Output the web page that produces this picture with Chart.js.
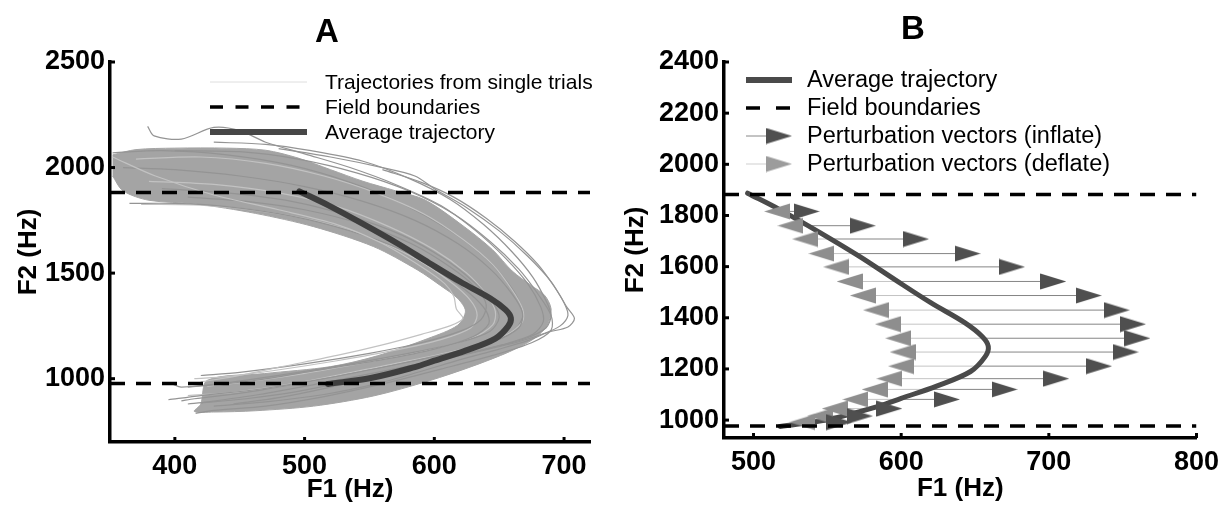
<!DOCTYPE html>
<html>
<head>
<meta charset="utf-8">
<script src="https://cdn.jsdelivr.net/npm/chart.js@4.4.0/dist/chart.umd.min.js"></script>
<style>
    html, body { margin: 0; padding: 0; background: #fff; }
    #wrap { position: relative; width: 1227px; height: 506px; overflow: hidden; }
    #wrap canvas { position: absolute; top: 0; }
</style>
</head>
<body>
<div id="wrap">
    <canvas id="chartA" width="615" height="506" style="left:0"></canvas>
    <canvas id="chartB" width="612" height="506" style="left:615px"></canvas>
</div>
<script>
// ---- data (F1, F2 in Hz) ----

// average trajectory, same in both panels
const avgF1 = [496, 518, 545, 572, 596, 620, 643, 655, 659, 657, 647, 624, 600, 585, 551, 518];
const avgF2 = [1887, 1822, 1733, 1639, 1548, 1459, 1381, 1326, 1288, 1249, 1190, 1133, 1085, 1055, 1003, 975];

// field boundaries (F2)
const fieldBounds = [1882, 977];

// panel A axes
const xRangeA = [350, 720];
const yRangeA = [700, 2500];
const xTicksA = [400, 500, 600, 700];
const yTicksA = [1000, 1500, 2000, 2500];

// panel B axes
const xRangeB = [480, 800];
const yRangeB = [930, 2400];
const xTicksB = [500, 600, 700, 800];
const yTicksB = [1000, 1200, 1400, 1600, 1800, 2000, 2200, 2400];

// panel A: outline of the dense bundle of single trials
const trialBand = [
    [352, 2060], [370, 2085], [400, 2092], [440, 2092], [470, 2082], [495, 2045], [520, 1990],
    [545, 1935], [570, 1890], [593, 1846], [623, 1720], [645, 1610], [660, 1510], [675, 1440],
    [685, 1395], [690, 1330], [687, 1253], [677, 1190], [658, 1128], [629, 1058], [596, 990],
    [553, 918], [507, 870], [462, 848], [430, 842], [415, 845],
    [420, 880], [425, 992], [469, 1024], [520, 1057], [556, 1108], [595, 1190], [618, 1253],
    [624, 1320], [618, 1380], [605, 1440], [587, 1515], [553, 1626], [507, 1720], [462, 1783],
    [416, 1828], [380, 1845], [360, 1890], [352, 1960]
];

// panel A: single trials that can be told apart
const trials = [
    [[379, 2195], [384, 2150], [405, 2135], [430, 2190], [450, 2175], [470, 2120], [500, 2065], [535, 2000], [570, 1920], [605, 1820], [632, 1700], [655, 1570], [672, 1450], [682, 1340], [684, 1270], [676, 1210], [652, 1160], [615, 1105], [575, 1045], [535, 990], [495, 940], [455, 905], [420, 885]],
    [[480, 2090], [520, 2050], [560, 2000], [585, 1960], [600, 1900], [625, 1810], [650, 1700], [672, 1580], [690, 1460], [702, 1340], [708, 1285], [703, 1245], [688, 1220], [672, 1180], [650, 1140], [620, 1090], [590, 1035], [555, 975], [515, 925], [470, 890], [430, 870]],
    [[352, 2050], [385, 1960], [430, 1870], [480, 1800], [525, 1730], [560, 1640], [590, 1530], [608, 1450], [615, 1390], [617, 1330], [622, 1285], [612, 1250], [590, 1210], [560, 1160], [525, 1110], [485, 1060], [445, 1010], [420, 985]],
    [[365, 1830], [400, 1830], [440, 1815], [490, 1770], [535, 1700], [575, 1610], [605, 1500], [628, 1400], [640, 1320], [642, 1260], [630, 1200], [600, 1140], [560, 1090], [510, 1040], [460, 990], [405, 960], [398, 975]],
    [[360, 2000], [400, 1990], [450, 1960], [500, 1910], [545, 1840], [585, 1750], [618, 1640], [643, 1520], [660, 1400], [668, 1310], [665, 1240], [645, 1175], [610, 1120], [565, 1060], [515, 1000], [465, 950], [420, 920], [395, 900]],
    [[370, 2040], [420, 2050], [470, 2020], [515, 1960], [555, 1880], [592, 1780], [622, 1660], [645, 1540], [660, 1420], [668, 1330], [668, 1270], [655, 1205], [625, 1145], [585, 1090], [540, 1035], [490, 975], [445, 935], [410, 920]],
    [[390, 1900], [440, 1880], [490, 1840], [535, 1770], [575, 1680], [607, 1570], [630, 1460], [645, 1360], [650, 1290], [643, 1225], [618, 1170], [580, 1120], [535, 1070], [485, 1020], [440, 980], [410, 960]],
    [[400, 2080], [450, 2075], [495, 2040], [540, 1975], [580, 1890], [615, 1780], [643, 1650], [665, 1520], [680, 1400], [690, 1300], [690, 1230], [675, 1170], [645, 1110], [605, 1045], [560, 975], [515, 915], [470, 870], [430, 850], [416, 836]],
    [[380, 1935], [430, 1920], [480, 1880], [525, 1815], [565, 1720], [600, 1610], [625, 1500], [640, 1400], [647, 1320], [645, 1255], [628, 1190], [595, 1135], [550, 1080], [500, 1025], [455, 985], [425, 965]],
    [[410, 1860], [455, 1840], [500, 1800], [545, 1730], [582, 1640], [612, 1530], [632, 1430], [640, 1350], [636, 1280], [620, 1225], [590, 1170], [550, 1120], [500, 1070], [450, 1030], [420, 1015]],
    [[560, 1990], [590, 1930], [615, 1860], [640, 1760], [662, 1650], [680, 1540], [692, 1440], [700, 1360], [703, 1300], [697, 1250], [685, 1215], [665, 1175], [635, 1130], [600, 1080], [560, 1020], [520, 960], [480, 910], [445, 880]],
    [[374, 1826], [420, 1822], [465, 1795], [510, 1745], [550, 1670], [585, 1570], [612, 1460], [628, 1370], [633, 1300], [628, 1240], [605, 1185], [570, 1135], [525, 1085], [478, 1040], [440, 1010], [415, 1000]],
    [[352, 2070], [390, 2080], [440, 2060], [490, 2010], [535, 1930], [575, 1830], [610, 1710], [638, 1580], [656, 1460], [666, 1360], [668, 1290], [660, 1220], [638, 1160], [600, 1105], [555, 1050], [505, 990], [455, 935], [415, 905], [405, 895]],
    [[430, 2120], [470, 2110], [505, 2080], [545, 2030], [580, 1950], [612, 1850], [638, 1730], [660, 1600], [676, 1480], [686, 1370], [690, 1300], [686, 1240], [670, 1190], [640, 1140], [600, 1085], [556, 1030], [510, 975], [465, 925], [425, 890], [410, 880]]
];

// panel B: perturbation vectors, one per row (F2), starting on the average trajectory
const rowF2 = [1816, 1760, 1708, 1651, 1599, 1542, 1487, 1430, 1375, 1320, 1266, 1211, 1162, 1120, 1081, 1045, 1016, 992];
const rowBase = [520, 537, 552, 569, 583, 598, 612, 628, 644, 656, 658, 652, 636, 618, 598, 578, 560, 544];
const inflateHead = [536, 574, 610, 645, 675, 703, 727, 746, 757, 760, 752, 734, 705, 670, 631, 592, 572, 558];
const deflateHead = [516, 525, 535, 546, 556, 565, 574, 583, 591, 598, 601, 600, 592, 582, 569, 555, 545, 533];

// ---- helpers ----
const FONT = '"Liberation Sans", Arial, Helvetica, sans-serif';
Chart.defaults.font.family = FONT;
Chart.defaults.color = '#000';

const toPts = (xs, ys) => xs.map((v, i) => ({ x: v, y: ys[i] }));
const pairPts = pairs => pairs.map(p => ({ x: p[0], y: p[1] }));
const hLine = (range, v) => [{ x: range[0], y: v }, { x: range[1], y: v }];

// arrow head drawn once, used as a point style
function makeHead(color, dir) {
    const w = 26, h = 17;
    const c = document.createElement('canvas');
    c.width = w;
    c.height = h;
    const g = c.getContext('2d');
    g.fillStyle = color;
    g.beginPath();
    if (dir > 0) {
        g.moveTo(0, 0.5); g.lineTo(w, h / 2); g.lineTo(0, h - 0.5);
    } else {
        g.moveTo(w, 0.5); g.lineTo(0, h / 2); g.lineTo(w, h - 0.5);
    }
    g.closePath();
    g.fill();
    return c;
}
const headInflate = makeHead('#4f4f4f', 1);
const headDeflate = makeHead('#8e8e8e', -1);
const headDeflateKey = makeHead('#9c9c9c', 1);

/**
 * Panel letter, inward tick marks and the legend
 */
const decor = {
    id: 'decor',
    afterDraw(chart, args, o) {
        const ctx = chart.ctx;
        const xs = chart.scales.x;
        const ys = chart.scales.y;
        ctx.save();

        // panel letter
        ctx.fillStyle = '#000';
        ctx.font = 'bold 33px ' + FONT;
        ctx.textAlign = 'center';
        ctx.textBaseline = 'alphabetic';
        ctx.fillText(o.letter, o.letterX, o.letterY);

        // tick marks pointing into the plot
        ctx.strokeStyle = '#000';
        ctx.lineWidth = 3;
        xs.ticks.forEach(t => {
            const px = xs.getPixelForValue(t.value);
            ctx.beginPath();
            ctx.moveTo(px, ys.bottom);
            ctx.lineTo(px, ys.bottom - 5);
            ctx.stroke();
        });
        ys.ticks.forEach(t => {
            const py = ys.getPixelForValue(t.value);
            ctx.beginPath();
            ctx.moveTo(xs.left, py);
            ctx.lineTo(xs.left + 5, py);
            ctx.stroke();
        });

        // legend
        const x0 = o.keyX[0];
        const x1 = o.keyX[1];
        o.legend.forEach((item, i) => {
            const ly = o.legendY[i];
            ctx.save();
            ctx.strokeStyle = item.color;
            ctx.lineWidth = item.width;
            if (item.dash) ctx.setLineDash(item.dash);
            ctx.beginPath();
            ctx.moveTo(x0, ly);
            ctx.lineTo(item.head ? x1 - 12 : x1, ly);
            ctx.stroke();
            ctx.restore();
            if (item.head) {
                ctx.drawImage(item.head, x1 - item.head.width, ly - item.head.height / 2);
            }
            ctx.fillStyle = '#000';
            ctx.font = o.legendFont;
            ctx.textAlign = 'left';
            ctx.textBaseline = 'middle';
            ctx.fillText(item.label, o.textX, ly + 1);
        });
        ctx.restore();
    }
};

function axisOptions(range, ticks, title, titlePad, size, isX) {
    return {
        type: 'linear',
        min: range[0],
        max: range[1],
        afterBuildTicks: scale => { scale.ticks = ticks.map(v => ({ value: v })); },
        afterFit: scale => {
            if (isX) scale.height = size; else scale.width = size;
        },
        grid: { display: false, drawTicks: false },
        border: { display: true, color: '#000', width: 3.5 },
        ticks: {
            padding: isX ? 8 : 5,
            maxRotation: 0,
            autoSkip: false,
            color: '#000',
            font: { size: 27, weight: 'bold' },
            callback: v => String(v)
        },
        title: {
            display: true,
            text: title,
            color: '#000',
            padding: titlePad,
            font: { size: 26, weight: 'bold' }
        }
    };
}

// ---- panel A ----
const datasetsA = [];
datasetsA.push({
    data: [...hLine(xRangeA, fieldBounds[0]), { x: null, y: null }, ...hLine(xRangeA, fieldBounds[1])],
    borderColor: '#000',
    borderWidth: 3.5,
    borderDash: [15, 11],
    spanGaps: false,
    order: 0
});
datasetsA.push({
    data: toPts(avgF1, avgF2),
    borderColor: '#3f3f3f',
    borderWidth: 6,
    borderCapStyle: 'round',
    tension: 0.35,
    order: 1
});
trials.forEach((t, i) => {
    datasetsA.push({
        data: pairPts(t),
        borderColor: i % 3 === 2 ? '#c2c2c2' : '#949494',
        borderWidth: 1.2,
        tension: 0.3,
        order: 2
    });
});
datasetsA.push({
    data: pairPts(trialBand),
    borderColor: '#a4a4a4',
    backgroundColor: '#a4a4a4',
    borderWidth: 1,
    tension: 0.3,
    fill: 'shape',
    order: 3
});

new Chart(document.getElementById('chartA'), {
    type: 'line',
    data: { datasets: datasetsA },
    options: {
        responsive: false,
        animation: false,
        events: [],
        layout: { padding: { top: 62, right: 25, left: 0, bottom: 0 } },
        elements: { point: { radius: 0 }, line: { tension: 0 } },
        scales: {
            x: axisOptions(xRangeA, xTicksA, 'F1 (Hz)', { top: 0, bottom: 1 }, 64, true),
            y: axisOptions(yRangeA, yTicksA, 'F2 (Hz)', { top: 13, bottom: 0 }, 110, false)
        },
        plugins: {
            legend: { display: false },
            tooltip: { enabled: false },
            decor: {
                letter: 'A', letterX: 327, letterY: 42,
                keyX: [210, 307], textX: 325, legendY: [82, 107, 132],
                legendFont: '21px ' + FONT,
                legend: [
                    { label: 'Trajectories from single trials', color: '#dedede', width: 1 },
                    { label: 'Field boundaries', color: '#000', width: 3.5, dash: [13, 12.5] },
                    { label: 'Average trajectory', color: '#474747', width: 6 }
                ]
            }
        }
    },
    plugins: [decor]
});

// ---- panel B ----
const datasetsB = [];
datasetsB.push({
    data: [...hLine(xRangeB, fieldBounds[0]), { x: null, y: null }, ...hLine(xRangeB, fieldBounds[1])],
    borderColor: '#000',
    borderWidth: 3.5,
    borderDash: [15, 11],
    spanGaps: false,
    order: 0
});
datasetsB.push({
    data: toPts(inflateHead, rowF2),
    showLine: false,
    pointStyle: headInflate,
    pointRadius: 6,
    order: 1
});
datasetsB.push({
    data: toPts(deflateHead, rowF2),
    showLine: false,
    pointStyle: headDeflate,
    pointRadius: 6,
    order: 2
});
datasetsB.push({
    data: toPts(avgF1, avgF2),
    borderColor: '#4a4a4a',
    borderWidth: 5,
    borderCapStyle: 'round',
    tension: 0.35,
    order: 3
});
rowF2.forEach((f2, i) => {
    datasetsB.push({
        data: [{ x: rowBase[i], y: f2 }, { x: inflateHead[i], y: f2 }],
        borderColor: '#858585',
        borderWidth: 1,
        order: 4
    });
    datasetsB.push({
        data: [{ x: rowBase[i], y: f2 }, { x: deflateHead[i], y: f2 }],
        borderColor: '#c4c4c4',
        borderWidth: 1,
        order: 4
    });
});

new Chart(document.getElementById('chartB'), {
    type: 'line',
    data: { datasets: datasetsB },
    options: {
        responsive: false,
        animation: false,
        events: [],
        layout: { padding: { top: 62, right: 25, left: 0, bottom: 0 } },
        elements: { point: { radius: 0 }, line: { tension: 0 } },
        scales: {
            x: axisOptions(xRangeB, xTicksB, 'F1 (Hz)', { top: 0, bottom: 2 }, 68, true),
            y: axisOptions(yRangeB, yTicksB, 'F2 (Hz)', { top: 5, bottom: 0 }, 109, false)
        },
        plugins: {
            legend: { display: false },
            tooltip: { enabled: false },
            decor: {
                letter: 'B', letterX: 298, letterY: 39,
                keyX: [131, 177], textX: 192, legendY: [80, 108, 136, 164],
                legendFont: '23.5px ' + FONT,
                legend: [
                    { label: 'Average trajectory', color: '#4a4a4a', width: 6 },
                    { label: 'Field boundaries', color: '#000', width: 3.5, dash: [14, 16] },
                    { label: 'Perturbation vectors (inflate)', color: '#888', width: 1, head: headInflate },
                    { label: 'Perturbation vectors (deflate)', color: '#cfcfcf', width: 1, head: headDeflateKey }
                ]
            }
        }
    },
    plugins: [decor]
});
</script>
</body>
</html>
